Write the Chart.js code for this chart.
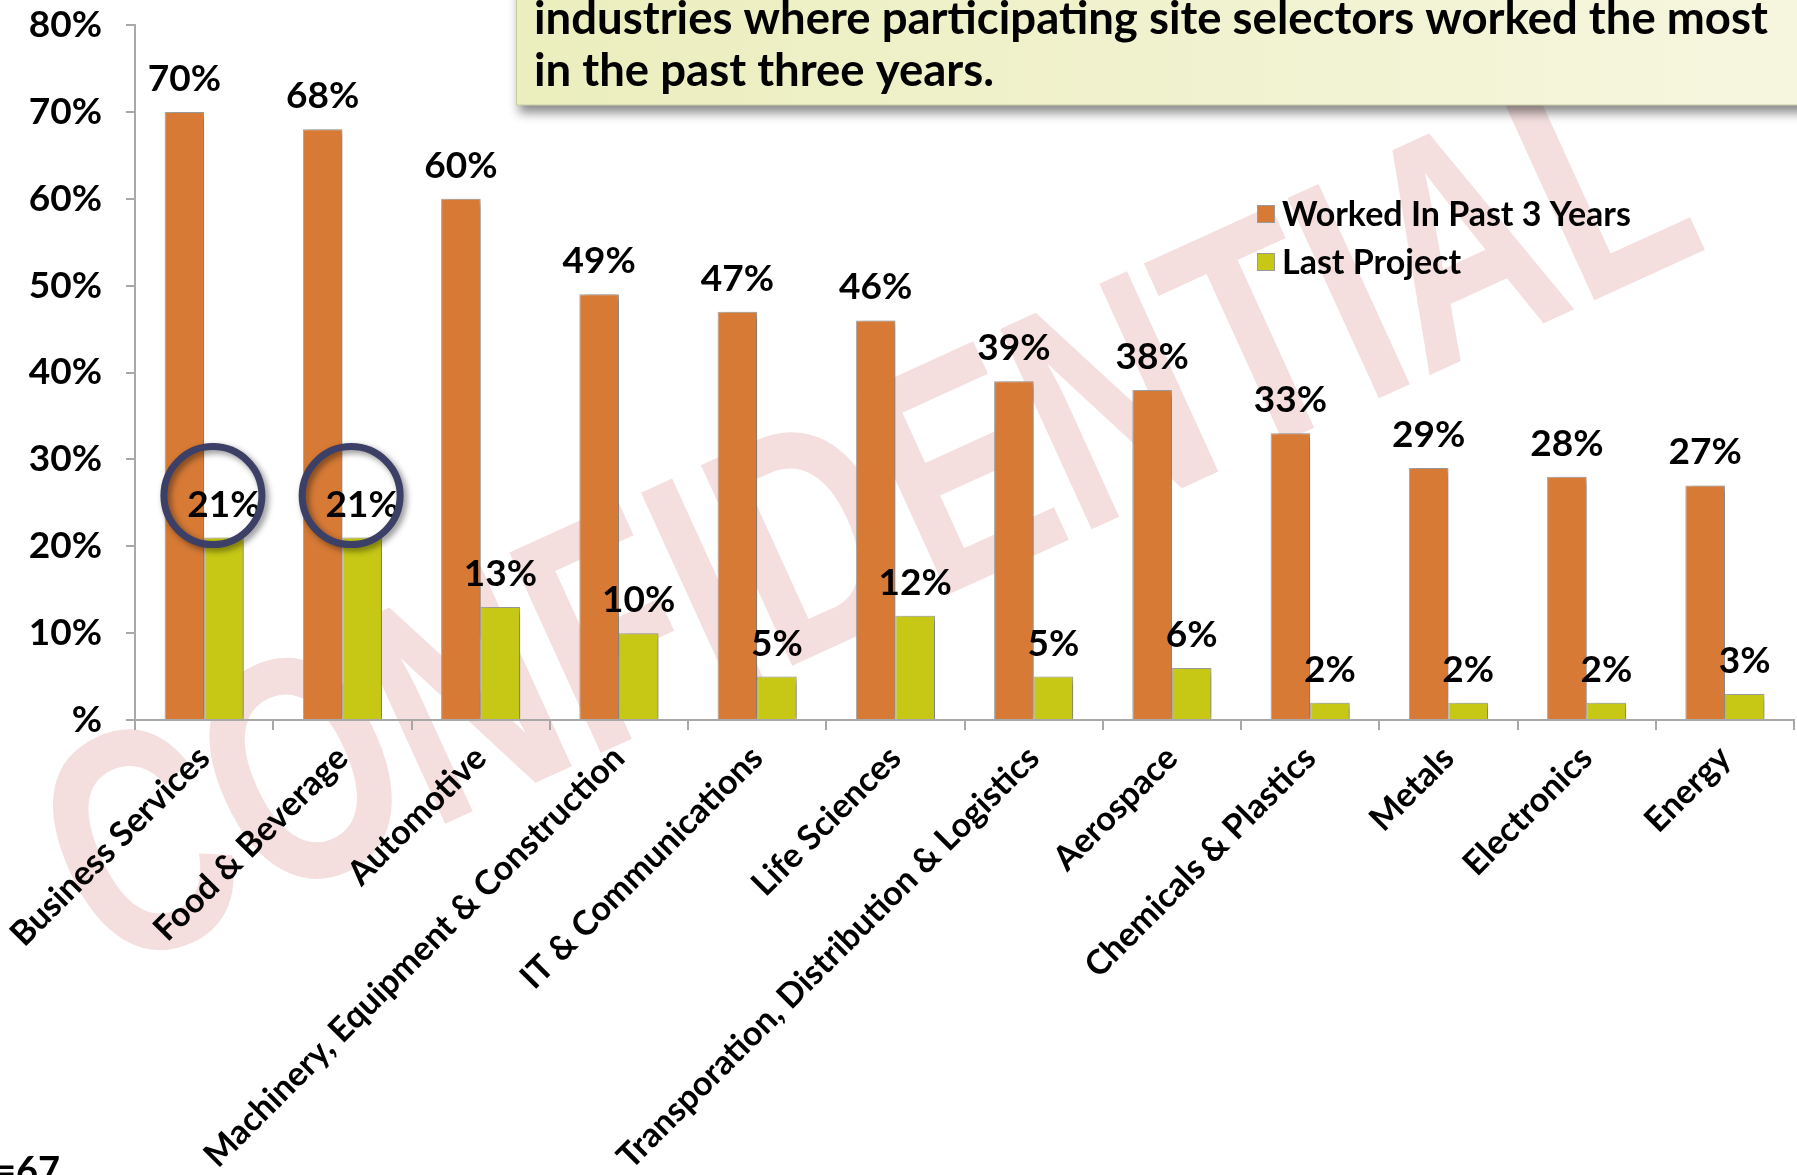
<!DOCTYPE html>
<html>
<head>
<meta charset="utf-8">
<style>
  html, body { margin: 0; padding: 0; background: #ffffff; overflow: hidden; }
  #wrap { position: relative; width: 1797px; height: 1175px; }
  canvas { display: block; }
</style>
<script src="https://cdn.jsdelivr.net/npm/chart.js@4/dist/chart.umd.min.js"></script>
</head>
<body>
<div id="wrap"><canvas id="chart" width="1797" height="1175"></canvas></div>
<script>
// ---- data ----
const categories = [
  'Business Services', 'Food & Beverage', 'Automotive',
  'Machinery, Equipment & Construction', 'IT & Communications', 'Life Sciences',
  'Transporation, Distribution & Logistics', 'Aerospace', 'Chemicals & Plastics',
  'Metals', 'Electronics', 'Energy'
];
const workedPast3Years = [70, 68, 60, 49, 47, 46, 39, 38, 33, 29, 28, 27];
const lastProject      = [21, 21, 13, 10, 5, 12, 5, 6, 2, 2, 2, 3];
const seriesNames = ['Worked In Past 3 Years', 'Last Project'];
const yTickLabels = ['%', '10%', '20%', '30%', '40%', '50%', '60%', '70%', '80%'];
const headline = [
  'industries where participating site selectors worked the most',
  'in the past three years.'
];
const sampleNote = 'n=67';
const watermarkText = 'CONFIDENTIAL';
const circledBars = [0, 1];   // Last Project bars that get a ring

// ---- styling ----
const FONT = 'Lato, "Open Sans", sans-serif';
const ORANGE = '#d67a36';
const GREEN = '#c6c815';
const AXIS_GREY = '#a8a8a8';

const paperPlugin = {
  id: 'paper',
  beforeDraw(chart) {
    const { ctx } = chart;
    ctx.save();
    ctx.fillStyle = '#ffffff';
    ctx.fillRect(0, 0, chart.width, chart.height);
    // tall, condensed watermark running up to the right
    const size = 320;
    ctx.translate(862, 508);
    ctx.rotate(-24.5 * Math.PI / 180);
    ctx.scale(0.74, 1);
    ctx.font = `bold ${size}px "Liberation Sans", Arial, sans-serif`;
    ctx.fillStyle = '#f4dede';
    ctx.textAlign = 'center';
    ctx.textBaseline = 'alphabetic';
    ctx.fillText(watermarkText, 0, size * 0.358);
    ctx.restore();
  }
};

const barShadowPlugin = {
  id: 'barShadow',
  beforeDatasetsDraw(chart) {
    const { ctx } = chart;
    ctx.save();
    ctx.shadowColor = 'rgba(0,0,0,0.35)';
    ctx.shadowBlur = 7;
    ctx.shadowOffsetX = 5;
    ctx.shadowOffsetY = 2;
  },
  afterDatasetsDraw(chart) {
    chart.ctx.restore();
  }
};

const annotatePlugin = {
  id: 'annotate',
  afterDatasetsDraw(chart) {
    const { ctx } = chart;

    // value labels above each bar
    ctx.save();
    ctx.font = `bold 37px ${FONT}`;
    ctx.fillStyle = '#000';
    ctx.textAlign = 'center';
    ctx.textBaseline = 'alphabetic';
    chart.data.datasets.forEach((ds, di) => {
      chart.getDatasetMeta(di).data.forEach((bar, i) => {
        ctx.fillText(ds.data[i] + '%', bar.x, bar.y - 21);
      });
    });
    ctx.restore();

    // rings around selected Last Project values
    const lpMeta = chart.getDatasetMeta(1);
    ctx.save();
    ctx.strokeStyle = '#3c3f66';
    ctx.lineWidth = 7;
    ctx.shadowColor = 'rgba(0,0,0,0.45)';
    ctx.shadowBlur = 6;
    ctx.shadowOffsetX = 3;
    ctx.shadowOffsetY = 3;
    circledBars.forEach(i => {
      const bar = lpMeta.data[i];
      ctx.beginPath();
      ctx.arc(bar.x - 11, bar.y - 42, 49, 0, Math.PI * 2);
      ctx.stroke();
    });
    ctx.restore();

    // legend
    ctx.save();
    ctx.font = `bold 34px ${FONT}`;
    ctx.textAlign = 'left';
    ctx.textBaseline = 'middle';
    chart.data.datasets.forEach((ds, di) => {
      const y = 214 + di * 48;
      ctx.fillStyle = ds.backgroundColor;
      ctx.fillRect(1257, y - 9, 17, 18);
      ctx.strokeStyle = '#9a9a9a';
      ctx.lineWidth = 1;
      ctx.strokeRect(1257.5, y - 8.5, 17, 17);
      ctx.fillStyle = '#000';
      ctx.fillText(ds.label, 1282, y + 1);
    });
    ctx.restore();

    // headline box
    ctx.save();
    ctx.shadowColor = 'rgba(0,0,0,0.45)';
    ctx.shadowBlur = 10;
    ctx.shadowOffsetX = 3;
    ctx.shadowOffsetY = 8;
    const g = ctx.createLinearGradient(516, 0, 1797, 0);
    g.addColorStop(0, '#ebeebd');
    g.addColorStop(1, '#f6f6df');
    ctx.fillStyle = g;
    ctx.fillRect(516, -20, 1320, 125);
    ctx.restore();
    ctx.save();
    ctx.strokeStyle = '#c9cba6';
    ctx.lineWidth = 1;
    ctx.strokeRect(516.5, -20, 1320, 125);
    ctx.font = `bold 45.5px ${FONT}`;
    ctx.fillStyle = '#000';
    ctx.textAlign = 'left';
    ctx.textBaseline = 'alphabetic';
    ctx.fillText(headline[0], 534, 34);
    ctx.fillText(headline[1], 534, 86);
    ctx.restore();

    // sample size note
    ctx.save();
    ctx.font = `bold 38px ${FONT}`;
    ctx.fillStyle = '#000';
    ctx.textAlign = 'right';
    ctx.fillText(sampleNote, 60, 1184);
    ctx.restore();
  }
};

new Chart(document.getElementById('chart'), {
  type: 'bar',
  data: {
    labels: categories,
    datasets: [
      { label: seriesNames[0], data: workedPast3Years, backgroundColor: ORANGE,
        borderColor: '#a5a5a5', borderWidth: 1 },
      { label: seriesNames[1], data: lastProject, backgroundColor: GREEN,
        borderColor: '#a5a5a5', borderWidth: 1 }
    ]
  },
  options: {
    responsive: false,
    animation: false,
    devicePixelRatio: 1,
    layout: { padding: { top: 25, right: 3, left: 0, bottom: 0 } },
    datasets: { bar: { categoryPercentage: 0.572, barPercentage: 1.0 } },
    plugins: { legend: { display: false }, tooltip: { enabled: false } },
    scales: {
      x: {
        grid: { display: true, drawOnChartArea: false, drawTicks: true, tickLength: 10,
                color: AXIS_GREY, lineWidth: 2, offset: true },
        border: { display: true, color: AXIS_GREY, width: 2 },
        ticks: { autoSkip: false, maxRotation: 45, minRotation: 45, padding: 8,
                 color: '#000', font: { family: FONT, size: 34, weight: 'bold' } },
        afterFit(scale) { scale.height = 455; scale.paddingLeft = 0; scale.paddingRight = 0; }
      },
      y: {
        min: 0, max: 80,
        grid: { display: true, drawOnChartArea: false, drawTicks: true, tickLength: 9,
                color: AXIS_GREY, lineWidth: 2 },
        border: { display: true, color: AXIS_GREY, width: 2 },
        ticks: { stepSize: 10, padding: 24, color: '#000',
                 font: { family: FONT, size: 37, weight: 'bold' },
                 callback: (v, i) => yTickLabels[i] },
        afterFit(scale) { scale.width = 135; scale.paddingTop = 0; scale.paddingBottom = 0; }
      }
    }
  },
  plugins: [paperPlugin, barShadowPlugin, annotatePlugin]
});
</script>
</body>
</html>
